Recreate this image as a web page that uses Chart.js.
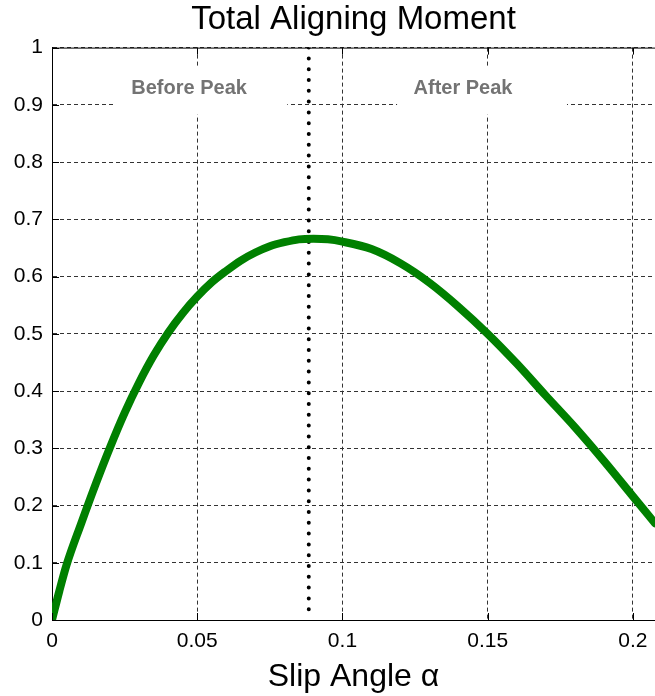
<!DOCTYPE html>
<html>
<head>
<meta charset="utf-8">
<script src="https://cdn.jsdelivr.net/npm/chart.js@4"></script>
<style>
  html, body { margin: 0; padding: 0; background: #fff; }
  #wrap { width: 655px; height: 696px; }
</style>
</head>
<body>
<div id="wrap"><canvas id="moment"></canvas></div>
<script>
// values
const slipAngle = [0, 0.0025, 0.005, 0.010, 0.015, 0.020, 0.025, 0.030, 0.035, 0.040, 0.045, 0.050, 0.055, 0.060, 0.065, 0.070, 0.075, 0.080, 0.085, 0.090, 0.095, 0.100, 0.110, 0.120, 0.130, 0.140, 0.150, 0.160, 0.170, 0.180, 0.190, 0.200, 0.2076];
const momentValues = [0, 0.05, 0.096, 0.168, 0.237, 0.302, 0.362, 0.415, 0.462, 0.502, 0.536, 0.565, 0.590, 0.610, 0.628, 0.642, 0.653, 0.660, 0.665, 0.666, 0.665, 0.661, 0.648, 0.623, 0.589, 0.547, 0.500, 0.448, 0.392, 0.337, 0.278, 0.216, 0.169];

const peakAngle = 0.0884;
const xTicks = [0, 0.05, 0.1, 0.15, 0.2];
const xTickLabels = ['0', '0.05', '0.1', '0.15', '0.2'];
const yTicks = [0, 0.1, 0.2, 0.3, 0.4, 0.5, 0.6, 0.7, 0.8, 0.9, 1];
const yTickLabels = ['0', '0.1', '0.2', '0.3', '0.4', '0.5', '0.6', '0.7', '0.8', '0.9', '1'];

// region labels: text, text x, box x range (data units)
const regionLabels = [
  { text: 'Before Peak', x: 0.0472, box: [0.0218, 0.081] },
  { text: 'After Peak', x: 0.1415, box: [0.1188, 0.1773] },
];
const labelY = 0.929;
const labelBoxY = [0.883, 0.965];

Chart.defaults.font.family = "'Liberation Sans', Arial, sans-serif";
Chart.defaults.color = '#000';

// white boxes + grey region text, top border and inward tick marks
const matlabLook = {
  id: 'matlabLook',
  beforeDatasetsDraw(chart) {
    const { ctx, scales: { x, y } } = chart;
    ctx.save();
    regionLabels.forEach(r => {
      const x0 = x.getPixelForValue(r.box[0]);
      const x1 = x.getPixelForValue(r.box[1]);
      const y0 = y.getPixelForValue(labelBoxY[1]);
      const y1 = y.getPixelForValue(labelBoxY[0]);
      ctx.fillStyle = '#fff';
      ctx.fillRect(x0, y0, x1 - x0, y1 - y0);
      ctx.fillStyle = '#737373';
      ctx.font = "bold 20px 'Liberation Sans', Arial, sans-serif";
      ctx.textAlign = 'center';
      ctx.textBaseline = 'middle';
      ctx.fillText(r.text, x.getPixelForValue(r.x), y.getPixelForValue(labelY));
    });
    ctx.restore();
  },
  afterDraw(chart) {
    const { ctx, chartArea: a, scales: { x, y } } = chart;
    ctx.save();
    ctx.strokeStyle = '#000';
    ctx.lineWidth = 1;
    ctx.beginPath();
    ctx.moveTo(a.left, a.top + 0.5);
    ctx.lineTo(a.right, a.top + 0.5);
    const t = 7;
    xTicks.forEach(v => {
      const px = Math.round(x.getPixelForValue(v)) + 0.5;
      ctx.moveTo(px, a.bottom); ctx.lineTo(px, a.bottom - t);
      ctx.moveTo(px, a.top); ctx.lineTo(px, a.top + t);
    });
    yTicks.forEach(v => {
      const py = Math.round(y.getPixelForValue(v)) + 0.5;
      ctx.moveTo(a.left, py); ctx.lineTo(a.left + t, py);
    });
    ctx.stroke();
    ctx.restore();
  }
};

const momentCanvas = document.getElementById('moment');

const momentData = {
  datasets: [{
    label: 'Total Aligning Moment',
    data: slipAngle.map((a, i) => ({ x: a, y: momentValues[i] })),
    borderColor: '#008000',
    borderWidth: 8,
    pointRadius: 0,
    cubicInterpolationMode: 'monotone',
    borderCapStyle: 'round',
    borderJoinStyle: 'round',
  },
  {
    label: 'Peak',
    data: [{ x: peakAngle, y: 1 }, { x: peakAngle, y: 0.014 }],
    borderColor: '#000',
    borderWidth: 4,
    borderDash: [0, 10.8],
    borderCapStyle: 'round',
    pointRadius: 0,
  }]
};

// in Chart.js v4 border.dash dashes the grid lines, the axis line stays solid
const momentOptions = {
  responsive: true,
  maintainAspectRatio: false,
  animation: false,
  layout: { padding: 0 },
  plugins: {
    legend: { display: false },
    tooltip: { enabled: false },
    title: {
      display: true,
      fullSize: false,
      text: 'Total Aligning Moment',
      color: '#000',
      font: { size: 33, weight: 'normal' },
      padding: { top: 0, bottom: 8 },
    },
  },
  scales: {
    x: {
      type: 'linear',
      min: 0,
      max: 0.2076,
      afterBuildTicks: scale => { scale.ticks = xTicks.map(v => ({ value: v })); },
      afterFit: scale => { scale.height = 76; scale.paddingLeft = 0; scale.paddingRight = 0; },
      ticks: {
        padding: 9,
        font: { size: 21 },
        callback: (v, i) => xTickLabels[i],
      },
      grid: { color: '#333', lineWidth: 1, drawTicks: false },
      border: { color: '#000', width: 1, dash: [4, 3] },
      title: {
        display: true,
        text: 'Slip Angle α',
        color: '#000',
        font: { size: 32 },
        padding: { top: 0, bottom: 0 },
      },
    },
    y: {
      min: 0,
      max: 1,
      afterBuildTicks: scale => { scale.ticks = yTicks.map(v => ({ value: v })); },
      afterFit: scale => { scale.width = 52; },
      ticks: {
        padding: 9,
        font: { size: 21 },
        callback: (v, i) => yTickLabels[i],
      },
      grid: { color: '#333', lineWidth: 1, drawTicks: false },
      border: { color: '#000', width: 1, dash: [4, 3] },
    },
  },
};

new Chart(momentCanvas.getContext('2d'), {
  type: 'line',
  plugins: [matlabLook],
  data: momentData,
  options: momentOptions,
});
</script>
</body>
</html>
